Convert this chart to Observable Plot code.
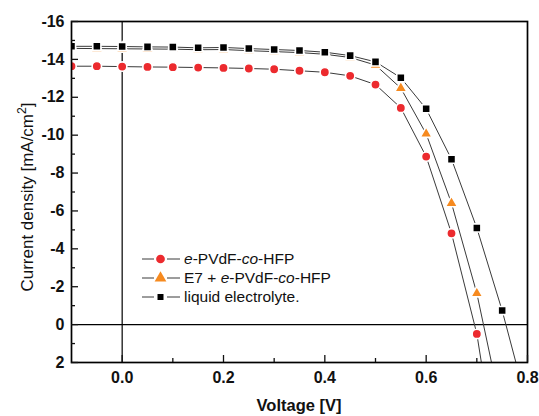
<!DOCTYPE html>
<html><head><meta charset="utf-8">
<script src="https://cdn.jsdelivr.net/npm/d3@7"></script>
<script src="https://cdn.jsdelivr.net/npm/@observablehq/plot@0.6"></script>
<style>
body{margin:0;background:#fff;font-family:"Liberation Sans",Arial,sans-serif;}
#wrap{position:relative;width:539px;height:416px;}
#legend{position:absolute;left:141px;top:249px;font-size:15.5px;color:#111;}
.row{display:flex;align-items:center;height:19.3px;white-space:nowrap;}
.row svg{margin-right:3px;}
#xtitle{position:absolute;left:199px;width:200px;text-align:center;top:396px;font-size:16.5px;font-weight:bold;color:#111;}
#ytitle{position:absolute;left:28px;top:197px;transform:translate(-50%,-50%) rotate(-90deg);font-size:17px;white-space:nowrap;color:#111;}
#ytitle sup{font-size:0.72em;line-height:0;position:relative;top:-0.05em;}
</style></head><body><div id="wrap"></div>
<script>
const voltage = [-0.1, -0.05, 0, 0.05, 0.1, 0.15, 0.2, 0.25, 0.3, 0.35, 0.4, 0.45, 0.5, 0.55, 0.6, 0.65, 0.7, 0.75, 0.8];
const seriesNames = ["e-PVdF-co-HFP", "E7 + e-PVdF-co-HFP", "liquid electrolyte."];
const pvdf   = [-13.64, -13.64, -13.62, -13.6, -13.59, -13.57, -13.55, -13.52, -13.48, -13.4, -13.32, -13.13, -12.67, -11.44, -8.87, -4.82, 0.49, 8.9];
const e7     = [-14.58, -14.57, -14.56, -14.55, -14.54, -14.51, -14.52, -14.46, -14.41, -14.36, -14.27, -14.1, -13.7, -12.48, -10.07, -6.41, -1.65, 4.65];
const liquid = [-14.69, -14.69, -14.68, -14.66, -14.65, -14.61, -14.63, -14.57, -14.52, -14.47, -14.38, -14.2, -13.87, -13.03, -11.39, -8.73, -5.1, -0.74, 4.3];
const xLabelTicks = [0, 0.2, 0.4, 0.6, 0.8];
const xMinorTicks = [0.1, 0.3, 0.5, 0.7];
const yLabelTicks = [-16, -14, -12, -10, -8, -6, -4, -2, 0, 2];
const yMinorTicks = [-15, -13, -11, -9, -7, -5, -3, -1, 1];
const colors = ["#ec2a2e", "#f68a1f", "#000000"];
const symbols = ["circle", "triangle", "square"];
const radii = [4.7, 4.5, 4.6];

const allSeries = [pvdf, e7, liquid];
const data = [];
allSeries.forEach((vals, i) => vals.forEach((v, j) => data.push({series: seriesNames[i], idx: i, x: voltage[j], y: v})));

const lineColor = "#3a3a3a";
const marks = [
  Plot.ruleX([0], {stroke: "#000", strokeWidth: 1.2}),
  Plot.ruleY([0], {stroke: "#000", strokeWidth: 1.2}),
];
seriesNames.forEach((name, i) => {
  const d = data.filter(r => r.idx === i);
  marks.push(Plot.line(d, {x: "x", y: "y", stroke: lineColor, strokeWidth: 1, clip: true}));
});
seriesNames.forEach((name, i) => {
  const d = data.filter(r => r.idx === i);
  marks.push(Plot.dot(d, {x: "x", y: "y", symbol: () => symbols[i], r: radii[i], fill: colors[i], stroke: "white", strokeWidth: 1.6, clip: true}));
});
marks.push(
  Plot.frame({stroke: "#000", strokeWidth: 1.7}),
  Plot.axisX(xLabelTicks, {tickSize: 0, tickPadding: 9, tickFormat: d => d.toFixed(1), fontWeight: "bold", fontSize: 16, label: null}),
  Plot.axisX(xLabelTicks, {tickSize: -7, fill: "none", label: null, strokeWidth: 1.3}),
  Plot.axisX(xMinorTicks, {tickSize: -4, fill: "none", label: null, strokeWidth: 1.3}),
  Plot.axisY(yLabelTicks, {tickSize: 0, tickPadding: 7, tickFormat: d => String(d), fontWeight: "bold", fontSize: 16, label: null}),
  Plot.axisY(yLabelTicks, {tickSize: -7, fill: "none", label: null, strokeWidth: 1.3}),
  Plot.axisY(yMinorTicks, {tickSize: -4, fill: "none", label: null, strokeWidth: 1.3})
);

const chart = Plot.plot({
  width: 539, height: 416,
  marginLeft: 71, marginRight: 12, marginTop: 21, marginBottom: 54,
  style: {fontFamily: "'Liberation Sans', Arial, sans-serif", color: "#111", background: "#fff"},
  x: {domain: [-0.1, 0.8]},
  y: {domain: [-16, 2], reverse: true},
  marks
});
const wrap = document.getElementById("wrap");
wrap.appendChild(chart);

const legend = document.createElement("div");
legend.id = "legend";
const labelsHtml = [
  "<i>e</i>-PVdF-<i>co</i>-HFP",
  "E7 + <i>e</i>-PVdF-<i>co</i>-HFP",
  "liquid electrolyte."
];
seriesNames.forEach((name, i) => {
  const row = document.createElement("div");
  row.className = "row";
  const s = d3.create("svg").attr("width", 40).attr("height", 14);
  s.append("line").attr("x1", 1).attr("x2", 13).attr("y1", 7).attr("y2", 7).attr("stroke", lineColor).attr("stroke-width", 1);
  s.append("line").attr("x1", 26).attr("x2", 39).attr("y1", 7).attr("y2", 7).attr("stroke", lineColor).attr("stroke-width", 1);
  const sym = d3.symbol(i === 0 ? d3.symbolCircle : i === 1 ? d3.symbolTriangle : d3.symbolSquare, i === 2 ? 36 : 60);
  s.append("path").attr("d", sym()).attr("transform", "translate(19.5,7)").attr("fill", colors[i]);
  row.appendChild(s.node());
  const t = document.createElement("span");
  t.innerHTML = labelsHtml[i];
  row.appendChild(t);
  legend.appendChild(row);
});
wrap.appendChild(legend);

const xt = document.createElement("div");
xt.id = "xtitle"; xt.textContent = "Voltage [V]";
wrap.appendChild(xt);
const yt = document.createElement("div");
yt.id = "ytitle"; yt.innerHTML = "Current density [mA/cm<sup>2</sup>]";
wrap.appendChild(yt);
</script>
</body></html>
